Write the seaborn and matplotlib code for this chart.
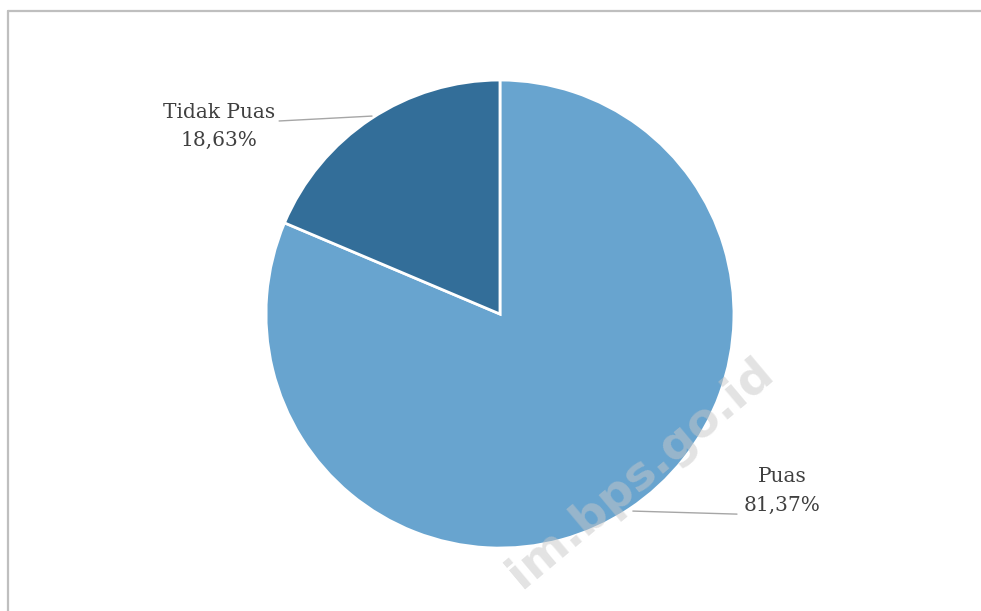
import matplotlib
matplotlib.use("Agg")
import matplotlib.pyplot as plt
from matplotlib.lines import Line2D
import seaborn as sns

# Survey satisfaction shares (percent)
categories = ["Puas", "Tidak Puas"]
shares = [81.37, 18.63]
value_labels = ["81,37%", "18,63%"]

colors = sns.color_palette(["#68A4CF", "#336E99"])

sns.set_theme(style="white")
plt.rcParams["font.family"] = ["DejaVu Serif", "DejaVu Sans"]

fig = plt.figure(figsize=(9.81, 6.11), dpi=100)
ax = fig.add_axes([0, 0, 1, 1])

wedges, _ = ax.pie(
    shares,
    colors=colors,
    startangle=90,
    counterclock=False,
    radius=1.0,
    wedgeprops=dict(edgecolor="white", linewidth=2),
)

ax.set_aspect("auto")
ax.set_xlim(-2.137, 2.056)
ax.set_ylim(-1.269, 1.342)
ax.axis("off")

text_color = "#404040"
leader_color = "#a6a6a6"

# Tidak Puas label with leader line
ax.text(-1.201, 0.80, f"{categories[1]}\n{value_labels[1]}", ha="center", va="center",
        fontsize=14.5, color=text_color, linespacing=1.6)
ax.plot([-0.944, -0.547], [0.825, 0.846], color=leader_color, lw=1)

# Puas label with leader line
ax.text(1.206, -0.756, f"{categories[0]}\n{value_labels[0]}", ha="center", va="center",
        fontsize=14.5, color=text_color, linespacing=1.6)
ax.plot([1.013, 0.568], [-0.855, -0.842], color=leader_color, lw=1)

# Watermark
ax.text(0.60, -0.68, "im.bps.go.id", rotation=40, ha="center", va="center",
        fontsize=34, fontweight="bold", family="DejaVu Sans",
        color="#c8c8c8", alpha=0.5, zorder=5)

# Frame around the chart area
border = "#bfbfbf"
fig.add_artist(Line2D([8 / 981, 8 / 981], [0, 1 - 11 / 611], color=border, lw=1.6,
                      transform=fig.transFigure))
fig.add_artist(Line2D([8 / 981, 1], [1 - 11 / 611, 1 - 11 / 611], color=border, lw=1.6,
                      transform=fig.transFigure))

fig.savefig("out.png", dpi=100)
